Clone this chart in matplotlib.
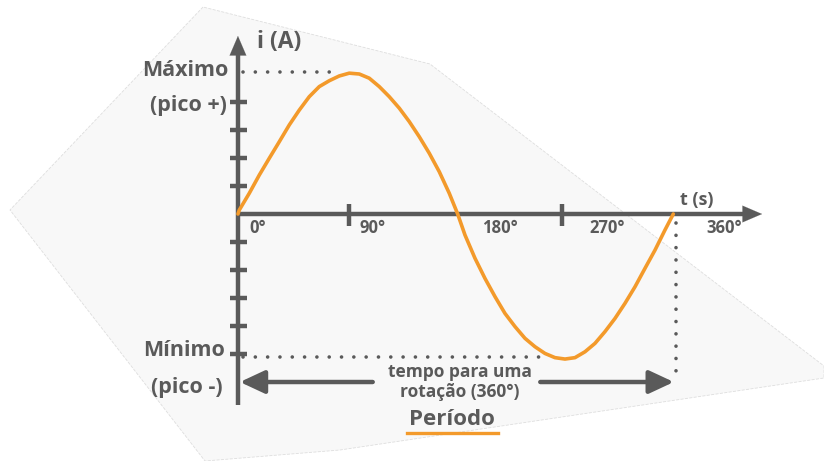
import numpy as np
import matplotlib.pyplot as plt
from matplotlib.patches import Polygon

# curve (x in degrees, y in tick units of current)
ang = [0, 1.07, 9.31, 17.55, 25.78, 34.02, 42.26, 50.49, 58.73, 66.97, 75.21,
       83.44, 91.68, 99.92, 108.15, 116.39, 124.63, 132.87, 141.1, 149.34,
       157.58, 165.82, 174.05, 180.97, 186.99, 195.22, 203.46, 211.7, 219.93,
       228.17, 236.41, 244.65, 252.88, 261.12, 269.36, 277.59, 285.83, 294.07,
       302.31, 310.54, 318.78, 327.02, 335.26, 343.49, 351.73, 358.57]
cur = [0, 0.14, 0.74, 1.39, 1.99, 2.58, 3.18, 3.71, 4.19, 4.55, 4.76,
       4.93, 5.03, 5.0, 4.85, 4.55, 4.19, 3.78, 3.30, 2.76,
       2.17, 1.51, 0.74, 0, -0.75, -1.58, -2.30, -2.95, -3.55,
       -4.02, -4.44, -4.74, -4.98, -5.13, -5.18, -5.13, -4.92, -4.62,
       -4.20, -3.73, -3.19, -2.60, -1.94, -1.29, -0.57, 0]

xtick_pos = [91.5, 267]
xtick_lbl = ['0°', '90°', '180°', '270°', '360°']
xtick_lbl_x = [9.1, 100.5, 201, 289.1, 385.5]
ytick_pos = [-5, -4, -3, -2, -1, 1, 2, 3, 4]

# light paper shape behind the drawing (pixels)
paper = [(203, 7), (10, 210), (205, 461), (340, 450), (824, 378),
         (824, 366), (430, 64)]

GREY = '#5a5a5a'
ORANGE = '#f39a2b'
FONT = ['Open Sans', 'DejaVu Sans']

fig = plt.figure(figsize=(8.24, 4.61), dpi=100)
bg = fig.add_axes([0, 0, 1, 1])
bg.set_xlim(0, 824)
bg.set_ylim(461, 0)
bg.axis('off')
bg.add_patch(Polygon(paper, closed=True, facecolor='#f8f8f8',
                     edgecolor='#dedede', lw=0.6, ls='--'))

ax = fig.add_axes([0, 0, 1, 1])
ax.patch.set_alpha(0)
ax.set_xlim(-196.0, 482.7)
ax.set_ylim(-8.821, 7.643)
ax.axis('off')

# axes
ax.plot([0, 0], [-6.82, 6.0], color=GREY, lw=3.2, solid_capstyle='butt')
ax.plot([0, 418], [0, 0], color=GREY, lw=3.2, solid_capstyle='butt')
arr = dict(arrowstyle='-|>,head_length=1.4,head_width=0.6', color=GREY, lw=0.1)
ax.annotate('', xy=(0, 6.46), xytext=(0, 5.9), arrowprops=arr)
ax.annotate('', xy=(434, 0), xytext=(418, 0), arrowprops=arr)

for yt in ytick_pos:
    ax.plot([-6.6, 7.4], [yt, yt], color=GREY, lw=3.2, solid_capstyle='butt')
for xt in xtick_pos:
    ax.plot([xt, xt], [0.36, -0.43], color=GREY, lw=3.2, solid_capstyle='butt')

for lbl, xl in zip(xtick_lbl, xtick_lbl_x):
    ax.text(xl, -0.5, lbl, ha='left', va='center', fontsize=12,
            fontweight='bold', color=GREY, family=FONT)

# the wave
ax.plot(ang, cur, color=ORANGE, lw=2.6, solid_capstyle='round',
        solid_joinstyle='round')

# dotted guides
dot = dict(color=GREY, lw=2.6, dash_capstyle='round', ls=(0, (0.01, 3.4)))
ax.plot([4, 82.4], [5.08, 5.08], **dot)
ax.plot([4, 251], [-5.1, -5.1], **dot)
ax.plot([361, 361], [-0.33, -6.0], **dot)

# period arrows
parr = dict(arrowstyle='-|>,head_length=1.5,head_width=0.7', color=GREY,
            lw=3.2, shrinkA=0, shrinkB=0)
ax.annotate('', xy=(1.6, -6.0), xytext=(111, -6.0), arrowprops=parr)
ax.annotate('', xy=(359, -6.0), xytext=(249, -6.0), arrowprops=parr)

# labels
txt = dict(fontweight='bold', color=GREY, family=FONT)
ax.text(-8.2, 5.14, 'Máximo', ha='right', va='center', fontsize=15.5, **txt)
ax.text(-9.0, 3.86, '(pico +)', ha='right', va='center', fontsize=15.5, **txt)
ax.text(-10.7, -4.86, 'Mínimo', ha='right', va='center', fontsize=15.5, **txt)
ax.text(-12.4, -6.18, '(pico -)', ha='right', va='center', fontsize=15.5, **txt)
ax.text(15.6, 6.14, 'i (A)', ha='left', va='center', fontsize=16.5, **txt)
ax.text(378, 0.5, 't (s)', ha='center', va='center', fontsize=13, **txt)
ax.text(182.9, -5.64, 'tempo para uma', ha='center', va='center',
        fontsize=12.5, **txt)
ax.text(182.9, -6.36, 'rotação (360°)', ha='center', va='center',
        fontsize=12.5, **txt)
ax.text(176.3, -7.33, 'Período', ha='center', va='center', fontsize=16, **txt)
ax.plot([139, 214], [-7.82, -7.82], color=ORANGE, lw=2.4)

fig.savefig('out.png', dpi=100)
